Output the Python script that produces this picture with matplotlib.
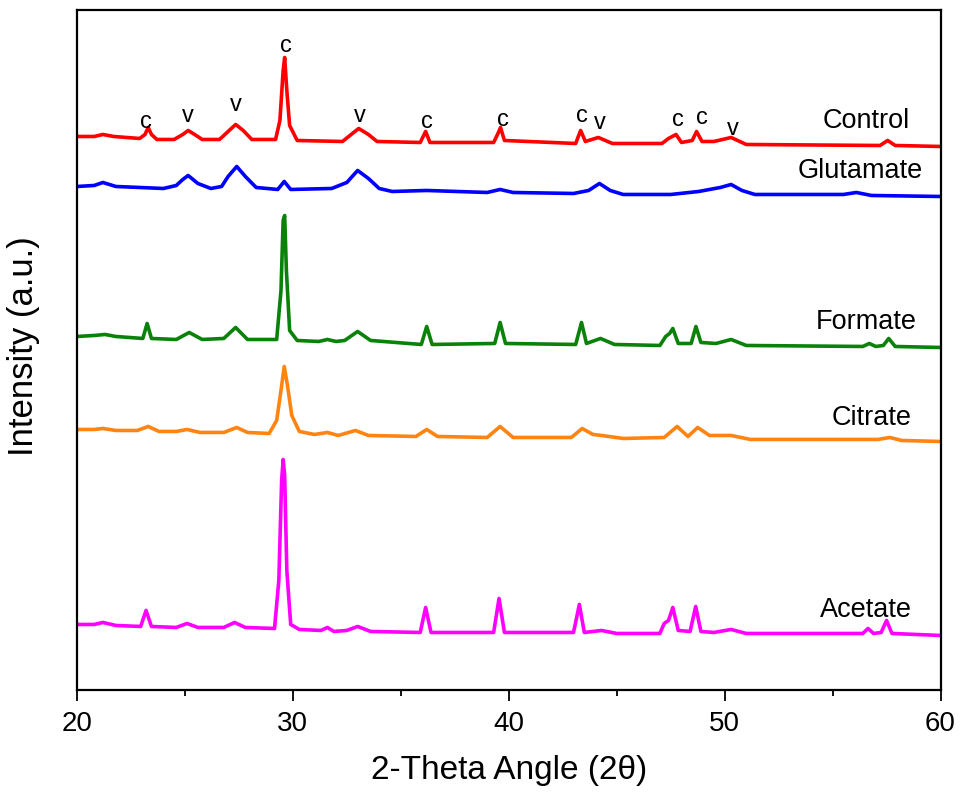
import matplotlib
matplotlib.use("Agg")
import matplotlib.pyplot as plt
from matplotlib.ticker import MultipleLocator

plt.rcParams["font.family"] = ["Liberation Sans", "DejaVu Sans"]

# --- XRD patterns (2-theta, intensity a.u., stacked) ---
control_x = [20.0, 20.8, 21.2, 21.7, 22.9, 23.15, 23.3, 23.45, 23.7, 24.5, 24.9, 25.15, 25.45, 25.8, 26.6,
             27.0, 27.35, 27.7, 28.1, 29.2, 29.4, 29.55, 29.62, 29.72, 29.85, 30.2, 32.3, 32.7, 33.05,
             33.5, 33.9, 35.9, 36.15, 36.35, 39.3, 39.5, 39.62, 39.8, 43.1, 43.33, 43.55, 44.15, 44.8,
             47.1, 47.4, 47.75, 48.0, 48.5, 48.7, 48.95, 49.5, 50.3, 51.0, 57.2, 57.55, 57.9, 60.0]
control_y = [554, 554, 556, 554, 552, 556, 563, 556, 551, 551, 556, 560, 556, 551, 551,
             559, 566, 560, 551, 551, 570, 620, 633, 600, 565, 550, 549, 556, 562,
             556, 549, 548, 559, 548, 548, 557, 563, 550, 547, 560, 549, 553, 547,
             547, 552, 556, 548, 550, 559, 549, 549, 553, 546, 545, 550, 545, 544]

glutamate_x = [20.0, 20.8, 21.2, 21.8, 24.0, 24.6, 24.9, 25.15, 25.6, 26.2, 26.7, 27.0, 27.4, 27.8, 28.3,
               29.3, 29.6, 29.9, 31.8, 32.5, 33.0, 33.5, 34.0, 34.6, 36.2, 39.0, 39.6, 40.2, 43.0,
               43.7, 44.2, 44.7, 45.3, 47.5, 48.8, 49.8, 50.3, 50.8, 51.4, 55.5, 56.1, 56.8, 60.0]
glutamate_y = [504, 505, 508, 504, 502, 505, 511, 515, 507, 502, 504, 514, 524, 514, 503,
               501, 509, 501, 502, 508, 520, 512, 502, 499, 500, 498, 501, 498, 497,
               500, 507, 500, 496, 496, 499, 503, 506, 500, 496, 496, 498, 495, 494]

formate_x = [20.0, 20.8, 21.3, 21.8, 23.05, 23.25, 23.45, 24.6, 25.2, 25.8, 26.8, 27.35, 27.9, 29.25,
             29.45, 29.55, 29.62, 29.7, 29.85, 30.2, 31.2, 31.6, 32.0, 32.4, 33.0, 33.6, 35.95, 36.2,
             36.45, 39.35, 39.6, 39.85, 43.1, 43.37, 43.6, 44.25, 44.9, 47.0, 47.27, 47.45, 47.6,
             47.85, 48.45, 48.67, 48.9, 49.6, 50.3, 51.0, 56.4, 56.7, 57.0, 57.35, 57.6, 57.9, 60.0]
formate_y = [354, 355, 356, 354, 352, 367, 352, 351, 358, 351, 352, 363, 351, 351,
             400, 470, 475, 420, 360, 350, 349, 351, 349, 350, 359, 350, 346, 364,
             346, 347, 368, 347, 346, 368, 347, 352, 346, 345, 354, 357, 362,
             347, 347, 364, 348, 347, 351, 345, 344, 347, 344, 345, 352, 344, 343]

citrate_x = [20.0, 20.8, 21.2, 21.8, 22.8, 23.3, 23.8, 24.6, 25.1, 25.7, 26.8, 27.4, 27.9, 28.9,
             29.25, 29.45, 29.6, 29.75, 29.95, 30.3, 31.0, 31.6, 32.1, 32.9, 33.5, 35.7, 36.2, 36.7,
             39.0, 39.6, 40.2, 42.9, 43.4, 43.9, 44.3, 45.3, 47.2, 47.8, 48.3, 48.75, 49.3, 50.3,
             51.2, 57.1, 57.65, 58.2, 60.0]
citrate_y = [261, 261, 262, 260, 260, 264, 259, 259, 261, 258, 258, 263, 258, 257,
             270, 300, 324, 305, 275, 259, 256, 258, 255, 260, 255, 254, 261, 254,
             253, 264, 253, 253, 262, 256, 255, 252, 253, 264, 254, 263, 255, 255,
             251, 251, 253, 250, 249]

acetate_x = [20.0, 20.8, 21.2, 21.8, 22.95, 23.2, 23.45, 24.6, 25.1, 25.6, 26.8, 27.3, 27.8, 29.15,
             29.35, 29.48, 29.55, 29.62, 29.72, 29.9, 30.3, 31.3, 31.6, 31.9, 32.5, 33.0, 33.6, 35.9,
             36.15, 36.4, 39.3, 39.55, 39.8, 43.0, 43.27, 43.5, 44.3, 45.0, 47.0, 47.2, 47.4, 47.6,
             47.85, 48.4, 48.66, 48.9, 49.5, 50.3, 51.0, 56.4, 56.64, 56.9, 57.25, 57.5, 57.75, 60.0]
acetate_y = [66, 66, 68, 65, 64, 80, 64, 63, 67, 63, 63, 68, 63, 62,
             110, 210, 231, 215, 120, 66, 61, 60, 63, 59, 60, 64, 59, 58,
             83, 58, 58, 92, 58, 58, 86, 58, 60, 57, 57, 67, 70, 83,
             60, 59, 84, 59, 58, 61, 57, 57, 62, 57, 58, 70, 57, 55]

samples = ["Control", "Glutamate", "Formate", "Citrate", "Acetate"]
colors = ["#ff0000", "#0000ff", "#0a820a", "#ff8412", "#ff00ff"]

# phase markers on the Control pattern (c = calcite, v = vaterite)
marker_text = ["c", "v", "v", "c", "v", "c", "c", "c", "v", "c", "c", "v"]
marker_x = [23.2, 25.14, 27.37, 29.7, 33.1, 36.2, 39.72, 43.4, 44.2, 47.85, 48.93, 50.4]
marker_y = [563, 569, 580, 639, 569, 563, 565, 569, 562, 565, 567, 556]

# sample name positions (right edge, baseline)
name_x = [58.58, 59.18, 58.9, 58.66, 58.66]
name_y = [563, 513, 362, 266, 74]

fig = plt.figure(figsize=(9.61, 8.03), dpi=100)
ax = fig.add_axes([0.0801, 0.1389, 0.8986, 0.8468])

curves = [(control_x, control_y), (glutamate_x, glutamate_y), (formate_x, formate_y),
          (citrate_x, citrate_y), (acetate_x, acetate_y)]
for (xs, ys), c in zip(curves, colors):
    ax.plot(xs, ys, color=c, lw=2.6, solid_joinstyle="round")

for name, x, y in zip(samples, name_x, name_y):
    ax.text(x, y, name, ha="right", va="baseline", fontsize=19.5)

for t, x, y in zip(marker_text, marker_x, marker_y):
    ax.text(x, y, t, ha="center", va="baseline", fontsize=17)

ax.set_xlim(20, 60)
ax.set_ylim(0, 680)
ax.xaxis.set_major_locator(MultipleLocator(10))
ax.xaxis.set_minor_locator(MultipleLocator(5))
ax.tick_params(axis="x", which="major", direction="out", length=8, width=1.3,
               labelsize=20, pad=6)
ax.tick_params(axis="x", which="minor", direction="out", length=4.5, width=1.3)
ax.set_yticks([])
for s in ax.spines.values():
    s.set_linewidth(1.6)

ax.set_xlabel("2-Theta Angle (2\u03b8)", fontsize=24, labelpad=13)
ax.set_ylabel("Intensity (a.u.)", fontsize=25)
ax.yaxis.set_label_coords(-0.043, 0.508)

fig.savefig("out.png", dpi=100)
